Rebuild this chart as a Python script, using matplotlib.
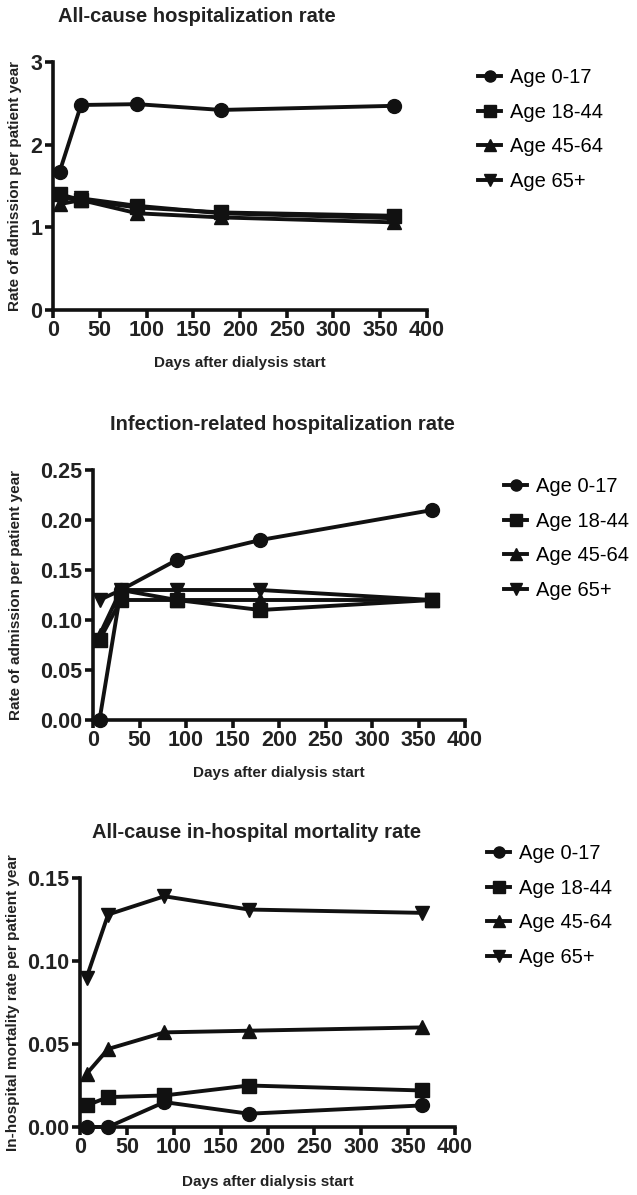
import matplotlib
matplotlib.use("Agg")
import matplotlib.pyplot as plt

plt.rcParams['font.family'] = ['Liberation Sans', 'DejaVu Sans']

days = [7, 30, 90, 180, 365]
groups = ["Age 0-17", "Age 18-44", "Age 45-64", "Age 65+"]
markers = ['o', 's', '^', 'v']

# all-cause hospitalization rate
allcause_0_17 = [1.67, 2.48, 2.49, 2.42, 2.47]
allcause_18_44 = [1.40, 1.33, 1.24, 1.18, 1.14]
allcause_45_64 = [1.28, 1.33, 1.17, 1.12, 1.06]
allcause_65 = [1.35, 1.35, 1.26, 1.17, 1.11]

# infection-related hospitalization rate
infect_0_17 = [0.00, 0.13, 0.16, 0.18, 0.21]
infect_18_44 = [0.08, 0.12, 0.12, 0.11, 0.12]
infect_45_64 = [0.085, 0.13, 0.12, 0.12, 0.12]
infect_65 = [0.12, 0.13, 0.13, 0.13, 0.12]

# in-hospital mortality rate
mort_0_17 = [0.0, 0.0, 0.015, 0.008, 0.013]
mort_18_44 = [0.013, 0.018, 0.019, 0.025, 0.022]
mort_45_64 = [0.032, 0.047, 0.057, 0.058, 0.060]
mort_65 = [0.090, 0.128, 0.139, 0.131, 0.129]

W, H = 637, 1195
fig = plt.figure(figsize=(W / 100, H / 100), dpi=100)


def px_axes(left, right, top, bottom):
    return fig.add_axes([left / W, 1 - bottom / H, (right - left) / W, (bottom - top) / H])


panels = [
    dict(box=(53, 427, 62, 310), data=[allcause_0_17, allcause_18_44, allcause_45_64, allcause_65],
         ylim=3, yticks=[0, 1, 2, 3], yfmt="{:.0f}",
         title="All-cause hospitalization rate", title_xy=(197, 16),
         ylabel="Rate of admission per patient year", ylab_x=15, xlab_y=363,
         leg=(478, 68)),
    dict(box=(93, 465, 470, 720), data=[infect_0_17, infect_18_44, infect_45_64, infect_65],
         ylim=0.25, yticks=[0, 0.05, 0.10, 0.15, 0.20, 0.25], yfmt="{:.2f}",
         title="Infection-related hospitalization rate", title_xy=(282, 424),
         ylabel="Rate of admission per patient year", ylab_x=16, xlab_y=773,
         leg=(504, 477)),
    dict(box=(80, 455, 878, 1127), data=[mort_0_17, mort_18_44, mort_45_64, mort_65],
         ylim=0.15, yticks=[0, 0.05, 0.10, 0.15], yfmt="{:.2f}",
         title="All-cause in-hospital mortality rate", title_xy=(257, 833),
         ylabel="In-hospital mortality rate per patient year", ylab_x=13, xlab_y=1182,
         leg=(487, 844)),
]

for p in panels:
    left, right, top, bottom = p['box']
    ax = px_axes(left, right, top, bottom)
    for series, lab, m in zip(p['data'], groups, markers):
        ax.plot(days, series, color='#111111', lw=2.8, marker=m, markersize=10,
                label=lab, clip_on=False, zorder=3)
    ax.set_xlim(0, 400)
    ax.set_ylim(0, p['ylim'])
    ax.set_xticks(range(0, 401, 50))
    ax.set_yticks(p['yticks'])
    ax.set_yticklabels([p['yfmt'].format(v) for v in p['yticks']])
    for s in ['top', 'right']:
        ax.spines[s].set_visible(False)
    for s in ['left', 'bottom']:
        ax.spines[s].set_linewidth(2.6)
        ax.spines[s].set_color('#111111')
    ax.tick_params(width=2.6, length=6, color='#111111', labelsize=15.5, pad=1.5)
    for t in ax.get_xticklabels() + ax.get_yticklabels():
        t.set_fontweight('bold')
        t.set_color('#222222')

    w_px = right - left
    h_px = bottom - top
    ax.set_ylabel(p['ylabel'], fontsize=11, fontweight='bold', color='#222222')
    ax.yaxis.set_label_coords((p['ylab_x'] - left) / w_px, 0.5)
    ax.yaxis.label.set_va('center')
    ax.set_xlabel("Days after dialysis start", fontsize=11, fontweight='bold', color='#222222')
    ax.xaxis.set_label_coords(0.5, (bottom - p['xlab_y']) / h_px)
    ax.xaxis.label.set_va('center')

    tx, ty = p['title_xy']
    fig.text(tx / W, 1 - ty / H, p['title'], ha='center', va='center',
             fontsize=14.5, fontweight='bold', color='#222222')

    lx, ly = p['leg']
    ax.legend(loc='upper left', bbox_to_anchor=(lx / W, 1 - ly / H),
              bbox_transform=fig.transFigure, frameon=False, fontsize=14.5,
              handlelength=1.15, handletextpad=0.45, labelspacing=0.78,
              borderpad=0, borderaxespad=0, markerscale=0.8)

fig.savefig("out.png", dpi=100)
